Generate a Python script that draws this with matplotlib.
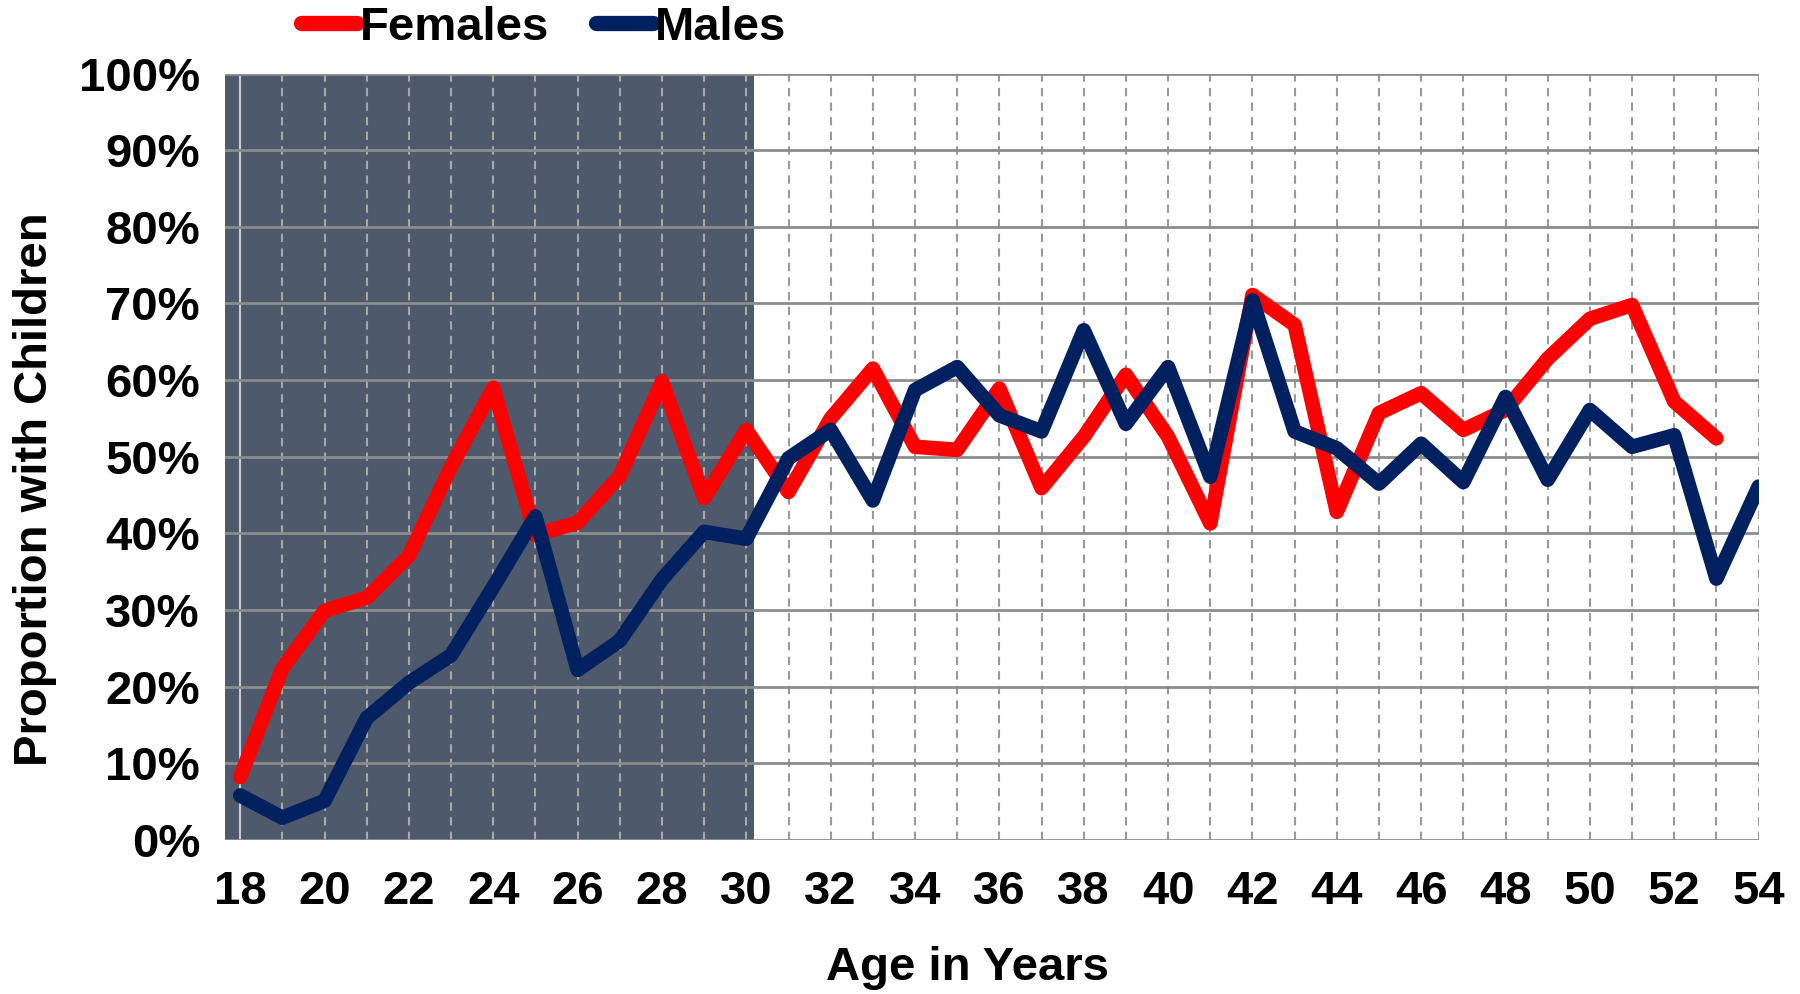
import matplotlib
matplotlib.use("Agg")
import matplotlib.pyplot as plt
from matplotlib.ticker import MultipleLocator, FuncFormatter

ages = list(range(18, 55))
females = [8.2, 22.4, 29.9, 31.6, 37.1, 48.7, 59.0, 39.8, 41.4, 47.5, 59.8, 44.6, 53.5,
           45.4, 55.0, 61.5, 51.3, 50.9, 58.9, 45.9, 52.6, 60.7, 52.6, 41.3, 71.1, 67.2,
           42.8, 55.7, 58.3, 53.5, 56.1, 62.8, 68.0, 69.8, 57.2, 52.4]
males = [5.8, 2.9, 5.1, 15.9, 20.5, 24.1, 33.0, 42.2, 22.2, 26.0, 34.0, 40.2, 39.3,
         49.8, 53.5, 44.3, 58.7, 61.7, 55.4, 53.3, 66.5, 54.3, 61.7, 47.4, 70.4, 53.3,
         51.1, 46.5, 51.7, 46.7, 57.8, 47.0, 56.1, 51.3, 52.8, 34.1, 46.1]
shade_start, shade_end = 17.64, 30.18

plt.rcParams['font.family'] = ['Liberation Sans', 'DejaVu Sans']
plt.rcParams['font.weight'] = 'bold'

fig = plt.figure(figsize=(18, 9.94), dpi=100)
ax = fig.add_axes([0.125, 0.155, 0.852, 0.771])

ax.set_xlim(shade_start, 54)
ax.set_ylim(0, 100)
ax.axvspan(shade_start, shade_end, color='#4F596C', zorder=0, lw=0)

# grid
for a in ages:
    if a == 18:
        ax.axvline(a, color='#C8CCD4', lw=1.5, zorder=1)
    else:
        c = '#A8A8A8' if a <= 30 else '#999999'
        ax.axvline(a, color=c, lw=1.5, ls=(0, (4, 3)), zorder=1)
for v in range(0, 101, 10):
    ax.axhline(v, color='#8C8C8C', lw=2, zorder=1)

ax.plot(ages[:len(females)], females, color='#FF0000', lw=10.5, label='Females',
        solid_capstyle='round', solid_joinstyle='round', zorder=3)
ax.plot(ages, males, color='#002060', lw=10.5, label='Males',
        solid_capstyle='round', solid_joinstyle='round', zorder=4)

for s in ax.spines.values():
    s.set_visible(False)

ax.set_xticks(range(18, 55, 2))
ax.yaxis.set_major_locator(MultipleLocator(10))
ax.yaxis.set_major_formatter(FuncFormatter(lambda v, p: f"{int(v)}%"))
ax.tick_params(axis='both', length=0, labelsize=34)
ax.tick_params(axis='x', pad=22)
ax.tick_params(axis='y', pad=18)
for lbl in ax.get_xticklabels() + ax.get_yticklabels():
    lbl.set_fontweight('bold')

ax.set_xlabel('Age in Years', fontsize=34, fontweight='bold')
ax.xaxis.set_label_coords(0.484, -0.167)
ax.xaxis.label.set_va('center')
ax.set_ylabel('Proportion with Children', fontsize=34, fontweight='bold')
ax.yaxis.set_label_coords(-0.124, 0.458)
ax.yaxis.label.set_va('center')

leg = fig.legend(loc='center', bbox_to_anchor=(0.302, 0.972), ncol=2, frameon=False,
                 handlelength=1.2, handletextpad=0.05, columnspacing=1.0,
                 prop={'weight': 'bold', 'size': 34})
for h in leg.get_lines():
    h.set_linewidth(11)
    h.set_solid_capstyle('round')

fig.savefig('out.png', dpi=100)
